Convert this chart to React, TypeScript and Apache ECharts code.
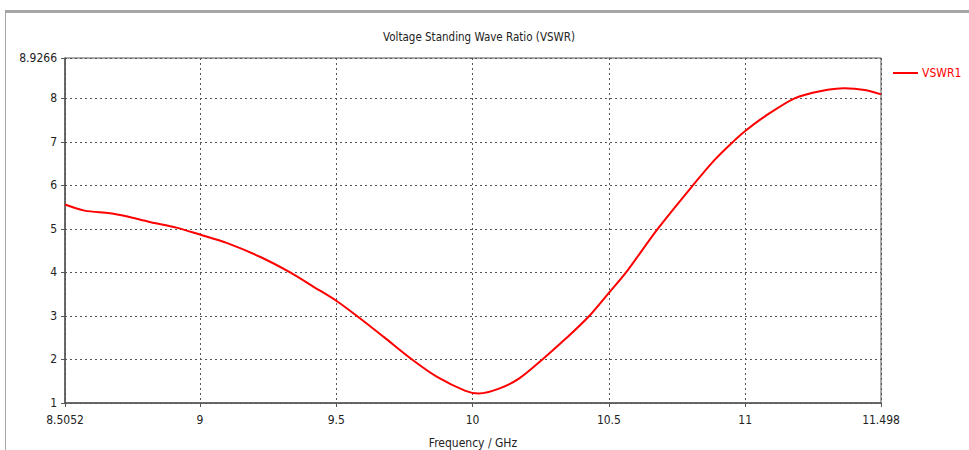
import React, { useEffect, useRef } from "react";
import * as echarts from "echarts";

const freqs = [8.5052, 8.577, 8.67, 8.73, 8.816, 8.914, 9.0, 9.098, 9.22, 9.331, 9.417, 9.5, 9.576, 9.674, 9.778, 9.87, 9.974, 10.023, 10.097, 10.17, 10.256, 10.342, 10.428, 10.5, 10.563, 10.679, 10.808, 10.887, 10.955, 11.0, 11.071, 11.181, 11.279, 11.365, 11.438, 11.498];
const vswr = [5.56, 5.42, 5.36, 5.29, 5.16, 5.03, 4.87, 4.68, 4.36, 4.0, 3.67, 3.35, 3.0, 2.52, 2.0, 1.6, 1.28, 1.22, 1.33, 1.56, 2.0, 2.48, 3.0, 3.53, 4.0, 5.0, 6.0, 6.58, 7.0, 7.25, 7.58, 8.0, 8.17, 8.23, 8.19, 8.09];
const xTicks = [8.5052, 9, 9.5, 10, 10.5, 11, 11.498];
const yTicks = [1, 2, 3, 4, 5, 6, 7, 8, 8.9266];
const title = "Voltage Standing Wave Ratio (VSWR)";
const xName = "Frequency / GHz";
const seriesName = "VSWR1";

const FONT = "'DejaVu Sans Condensed', 'Liberation Sans Narrow', sans-serif";

export default function App() {
  const ref = useRef<HTMLDivElement>(null);
  useEffect(() => {
    document.body.style.margin = "0";
    const chart = echarts.init(ref.current!, null, { renderer: "svg" });
    chart.setOption({
      animation: false,
      backgroundColor: "#ffffff",
      textStyle: { fontFamily: FONT },
      title: {
        text: title,
        left: 474,
        top: 26,
        textAlign: "center",
        textStyle: { fontSize: 11.5, fontWeight: "normal", color: "#222", fontFamily: FONT },
      },
      legend: {
        data: [seriesName],
        left: 893,
        top: 67,
        padding: 0,
        icon: "rect",
        itemWidth: 25,
        itemHeight: 2,
        itemGap: 4,
        textStyle: { color: "#ff0000", fontSize: 12, fontFamily: FONT, padding: [0, 0, 0, -1] },
      },
      grid: {
        left: 65,
        right: 88,
        top: 58,
        bottom: 47,
        show: true,
        borderColor: "#555",
        borderWidth: 1,
        containLabel: false,
        outerBoundsMode: "none",
      },
      xAxis: {
        type: "value",
        min: 8.5052,
        max: 11.498,
        name: xName,
        nameLocation: "middle",
        nameGap: 34,
        nameTextStyle: { color: "#222", fontSize: 12, fontFamily: FONT },
        axisLine: { show: true, lineStyle: { color: "#555", width: 1.5 } },
        axisTick: { show: true, length: 4, customValues: xTicks, lineStyle: { color: "#555" } },
        axisLabel: {
          customValues: xTicks,
          margin: 11,
          color: "#222",
          fontSize: 12,
          fontFamily: FONT,
          formatter: (v: number) => String(v),
        },
        splitLine: { show: true, lineStyle: { color: "#555", type: [2, 3], width: 1 } },
      },
      yAxis: {
        type: "value",
        min: 1,
        max: 8.9266,
        axisLine: { show: true, lineStyle: { color: "#555", width: 1.5 } },
        axisTick: { show: true, length: 4, customValues: yTicks, lineStyle: { color: "#555" } },
        axisLabel: {
          customValues: yTicks,
          margin: 8,
          color: "#222",
          fontSize: 12,
          fontFamily: FONT,
          formatter: (v: number) => String(v),
        },
        splitLine: { show: true, lineStyle: { color: "#555", type: [2, 3], width: 1 } },
      },
      graphic: [
        { type: "rect", shape: { x: 5, y: 10, width: 964, height: 3 }, style: { fill: "#a6a6a6" }, silent: true },
        { type: "rect", shape: { x: 5, y: 10, width: 1, height: 440 }, style: { fill: "#a6a6a6" }, silent: true },
      ],
      series: [
        {
          name: seriesName,
          type: "line",
          smooth: 0.3,
          showSymbol: false,
          symbol: "none",
          data: freqs.map((f, i) => [f, vswr[i]]),
          lineStyle: { color: "#ff0000", width: 2 },
          itemStyle: { color: "#ff0000" },
        },
      ],
    });
    return () => chart.dispose();
  }, []);
  return <div ref={ref} style={{ width: 969, height: 450 }} />;
}
